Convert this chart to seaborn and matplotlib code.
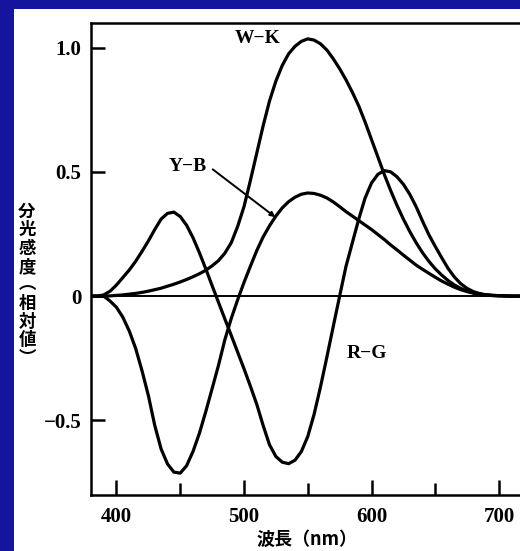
import matplotlib
matplotlib.use("Agg")
import matplotlib.pyplot as plt
from matplotlib.patches import Rectangle
import seaborn as sns
import pandas as pd

sns.set_theme(style="white")
plt.rcParams['font.family'] = ['Liberation Serif', 'Noto Sans CJK JP', 'DejaVu Sans']

wavelength = [380, 385, 390, 395, 400, 405, 410, 415, 420, 425, 430, 435, 440, 445,
              450, 455, 460, 465, 470, 475, 480, 485, 490, 495, 500, 505, 510, 515,
              520, 525, 530, 535, 540, 545, 550, 555, 560, 565, 570, 575, 580, 585,
              590, 595, 600, 605, 610, 615, 620, 625, 630, 635, 640, 645, 650, 655,
              660, 665, 670, 675, 680, 685, 690, 695, 700, 710, 720]

wk = [0, 0, 0, 0.001, 0.003, 0.005, 0.008, 0.011, 0.015, 0.02, 0.026, 0.032, 0.04, 0.048,
      0.057, 0.067, 0.078, 0.09, 0.104, 0.122, 0.143, 0.173, 0.215, 0.28, 0.36, 0.465, 0.575, 0.685,
      0.785, 0.865, 0.928, 0.975, 1.005, 1.025, 1.035, 1.03, 1.015, 0.99, 0.955, 0.915, 0.87, 0.82,
      0.765, 0.7, 0.63, 0.56, 0.49, 0.425, 0.365, 0.31, 0.26, 0.215, 0.175, 0.14, 0.11, 0.085,
      0.063, 0.045, 0.031, 0.021, 0.013, 0.008, 0.005, 0.003, 0.002, 0, 0]

yb = [0, 0, 0, -0.02, -0.045, -0.085, -0.14, -0.21, -0.3, -0.4, -0.52, -0.615, -0.675, -0.708,
      -0.712, -0.682, -0.625, -0.552, -0.465, -0.372, -0.278, -0.175, -0.09, -0.015, 0.055, 0.12, 0.183, 0.238,
      0.283, 0.322, 0.355, 0.38, 0.398, 0.41, 0.415, 0.413, 0.406, 0.395, 0.379, 0.36, 0.34, 0.322,
      0.304, 0.286, 0.268, 0.248, 0.228, 0.206, 0.186, 0.165, 0.145, 0.125, 0.108, 0.092, 0.076, 0.061,
      0.048, 0.036, 0.026, 0.018, 0.012, 0.008, 0.005, 0.003, 0.002, 0, 0]

rg = [0, 0, 0.005, 0.02, 0.045, 0.075, 0.105, 0.14, 0.18, 0.222, 0.268, 0.31, 0.333, 0.338,
      0.32, 0.285, 0.235, 0.175, 0.11, 0.042, -0.025, -0.092, -0.158, -0.225, -0.292, -0.362, -0.435, -0.52,
      -0.598, -0.645, -0.668, -0.674, -0.66, -0.625, -0.565, -0.475, -0.365, -0.245, -0.122, 0.0, 0.12, 0.215,
      0.31, 0.395, 0.455, 0.49, 0.505, 0.5, 0.48, 0.45, 0.41, 0.36, 0.302, 0.247, 0.2, 0.155,
      0.112, 0.077, 0.05, 0.031, 0.018, 0.01, 0.005, 0.002, 0.001, 0, 0]

series_names = ["W−K", "Y−B", "R−G"]
x_ticks = [400, 500, 600, 700]
x_minor = [450, 550, 650]
y_ticks = [1.0, 0.5, 0, -0.5]
y_ticklabels = ["1.0", "0.5", "0", "−0.5"]

df = pd.concat([
    pd.DataFrame({"wl": wavelength, "val": vals, "series": name})
    for name, vals in zip(series_names, [wk, yb, rg])
])

fig = plt.figure(figsize=(5.2, 5.51), dpi=100)
fig.patch.set_facecolor('#14149e')
fig.patches.append(Rectangle((14/520, 0), 1, (551-9)/551, transform=fig.transFigure,
                             facecolor='white', edgecolor='none', zorder=-5))

ax = fig.add_axes([91/520, (551-495)/551, 433.5/520, (495-22.7)/551])
ax.set_zorder(2)
ax.set_facecolor('white')
sns.lineplot(data=df, x="wl", y="val", hue="series", units="series", estimator=None,
             palette={n: 'black' for n in series_names}, linewidth=2.3, legend=False,
             sort=False, ax=ax, solid_joinstyle='round', solid_capstyle='round')
ax.axhline(0, color='black', lw=1.4, zorder=1)

ax.set_xlim(380, 720)
ax.set_ylim(-0.8, 1.1)
ax.set_xticks(x_ticks)
ax.set_xticks(x_minor, minor=True)
ax.set_yticks(y_ticks)
ax.set_yticklabels(y_ticklabels)
ax.tick_params(axis='both', which='both', direction='in', width=1.8, color='black',
               labelsize=15, labelcolor='black')
ax.tick_params(axis='x', which='major', length=11, pad=9, bottom=True)
ax.tick_params(axis='x', which='minor', length=9, bottom=True)
ax.tick_params(axis='y', which='major', length=10, pad=7, left=True)
for lab in ax.get_xticklabels() + ax.get_yticklabels():
    lab.set_fontweight('bold')
for s in ['left', 'top', 'bottom']:
    ax.spines[s].set_visible(True)
    ax.spines[s].set_color('black')
    ax.spines[s].set_linewidth(1.8)
ax.spines['right'].set_visible(False)
ax.grid(False)

ax.set_xlabel("")
ax.set_ylabel("")

lab_kw = dict(fontsize=14, fontweight='bold', ha='center', va='center', color='black')
ax.text(511, 1.035, series_names[0], **lab_kw)
ax.text(456, 0.523, series_names[1], **lab_kw)
ax.text(596, -0.23, series_names[2], **lab_kw)
ax.annotate('', xy=(524.5, 0.318), xytext=(475.5, 0.51),
            arrowprops=dict(arrowstyle='-|>', lw=1.4, color='black', mutation_scale=7,
                            shrinkA=0, shrinkB=0))

fig.text(307/520, 1 - 539/551, "波長（nm）", ha='center', va='center', fontsize=13,
         fontweight='bold', family=['Noto Sans CJK JP', 'DejaVu Sans'], color='black')

ylabel_chars = ["分", "光", "感", "度", "︵", "相", "対", "値", "︶"]
for i, ch in enumerate(ylabel_chars):
    fig.text(27/520, 1 - (212 + i*18.3)/551, ch, ha='center', va='center', fontsize=12.5,
             fontweight='bold', family=['Noto Sans CJK JP', 'DejaVu Sans'], color='black')

fig.savefig("out.png", dpi=100, facecolor=fig.get_facecolor())
